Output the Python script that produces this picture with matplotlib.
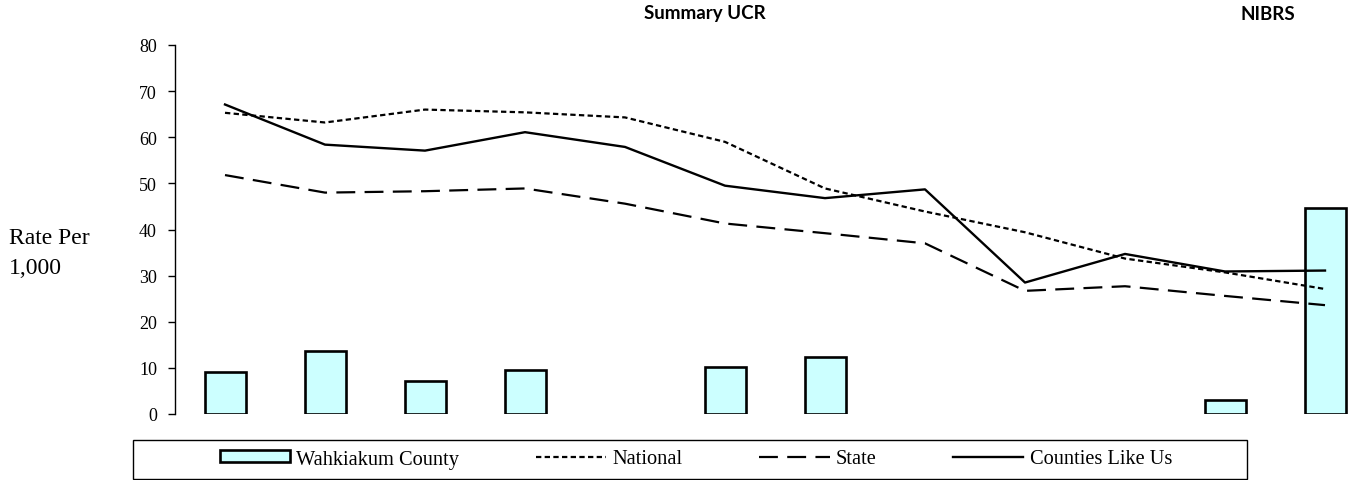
import matplotlib
matplotlib.use('Agg')

import matplotlib.pyplot as plt
import numpy as np
from matplotlib.patches import Rectangle

# 12 reporting years (no labels shown on the axis)
years = np.arange(12)

county = [9.0, 13.7, 7.1, 9.5, np.nan, 10.1, 12.4, np.nan, np.nan, np.nan, 3.0, 44.7]
national = [65.3, 63.2, 66.0, 65.4, 64.3, 59.0, 48.9, 43.9, 39.4, 33.7, 30.7, 27.1]
state = [51.8, 48.0, 48.3, 48.9, 45.6, 41.3, 39.2, 37.0, 26.7, 27.7, 25.6, 23.6]
counties_like_us = [67.1, 58.4, 57.1, 61.1, 57.9, 49.5, 46.8, 48.7, 28.5, 34.7, 30.9, 31.1]

yticks = [0, 10, 20, 30, 40, 50, 60, 70, 80]

serif = ['Liberation Serif', 'DejaVu Serif']
sans = ['Lato', 'DejaVu Sans']

W, H = 1349, 481
fig = plt.figure(figsize=(W / 100, H / 100), dpi=100)
ax = fig.add_axes([175 / W, 66 / H, 1200 / W, 369 / H])

county = np.array(county)
has_bar = ~np.isnan(county)
bars = ax.bar(years[has_bar], county[has_bar], width=0.41, color='#CCFFFF',
              edgecolor='black', linewidth=1.9, label='Wahkiakum County', zorder=2)

nat, = ax.plot(years, national, color='black', lw=1.6, dashes=(2.4, 1.5),
               label='National', zorder=3)
st, = ax.plot(years, state, color='black', lw=1.6, dashes=(8.5, 4.2),
              label='State', zorder=3)
cl, = ax.plot(years, counties_like_us, color='black', lw=1.7,
              label='Counties Like Us', zorder=3)

ax.set_xlim(-0.5, 11.5)
ax.set_ylim(0, 80)
ax.set_yticks(yticks)
ax.set_xticks([])
for s in ['top', 'right', 'bottom']:
    ax.spines[s].set_visible(False)
ax.spines['left'].set_linewidth(1.0)
ax.tick_params(axis='y', length=5, width=1.0, pad=8)
for lab in ax.get_yticklabels():
    lab.set_fontfamily(serif)
    lab.set_fontsize(13)

fig.text(9 / W, 1 - 239 / H, 'Rate Per', family=serif, fontsize=17,
         ha='left', va='center')
fig.text(9 / W, 1 - 269 / H, '1,000', family=serif, fontsize=17,
         ha='left', va='center')

fig.text(705 / W, 1 - 14 / H, 'Summary UCR', family=sans,
         fontweight='bold', fontsize=13.5, ha='center', va='center')
fig.text(1268 / W, 1 - 14 / H, 'NIBRS', family=sans,
         fontweight='bold', fontsize=13.5, ha='center', va='center')

# legend frame is wider than its entries in the original
fig.patches.append(Rectangle((133 / W, 1 / H), 1114 / W, 39 / H,
                             transform=fig.transFigure, fill=False,
                             edgecolor='black', linewidth=1.0))
leg = fig.legend(handles=[bars, nat, st, cl], ncol=4, loc='center',
                 bbox_to_anchor=(696 / W, 1 - 460 / H),
                 prop={'family': serif, 'size': 14.7}, frameon=False,
                 handlelength=3.43, handleheight=0.5, handletextpad=0.3,
                 columnspacing=3.77, borderpad=0, borderaxespad=0)

fig.savefig('out.png', dpi=100)
